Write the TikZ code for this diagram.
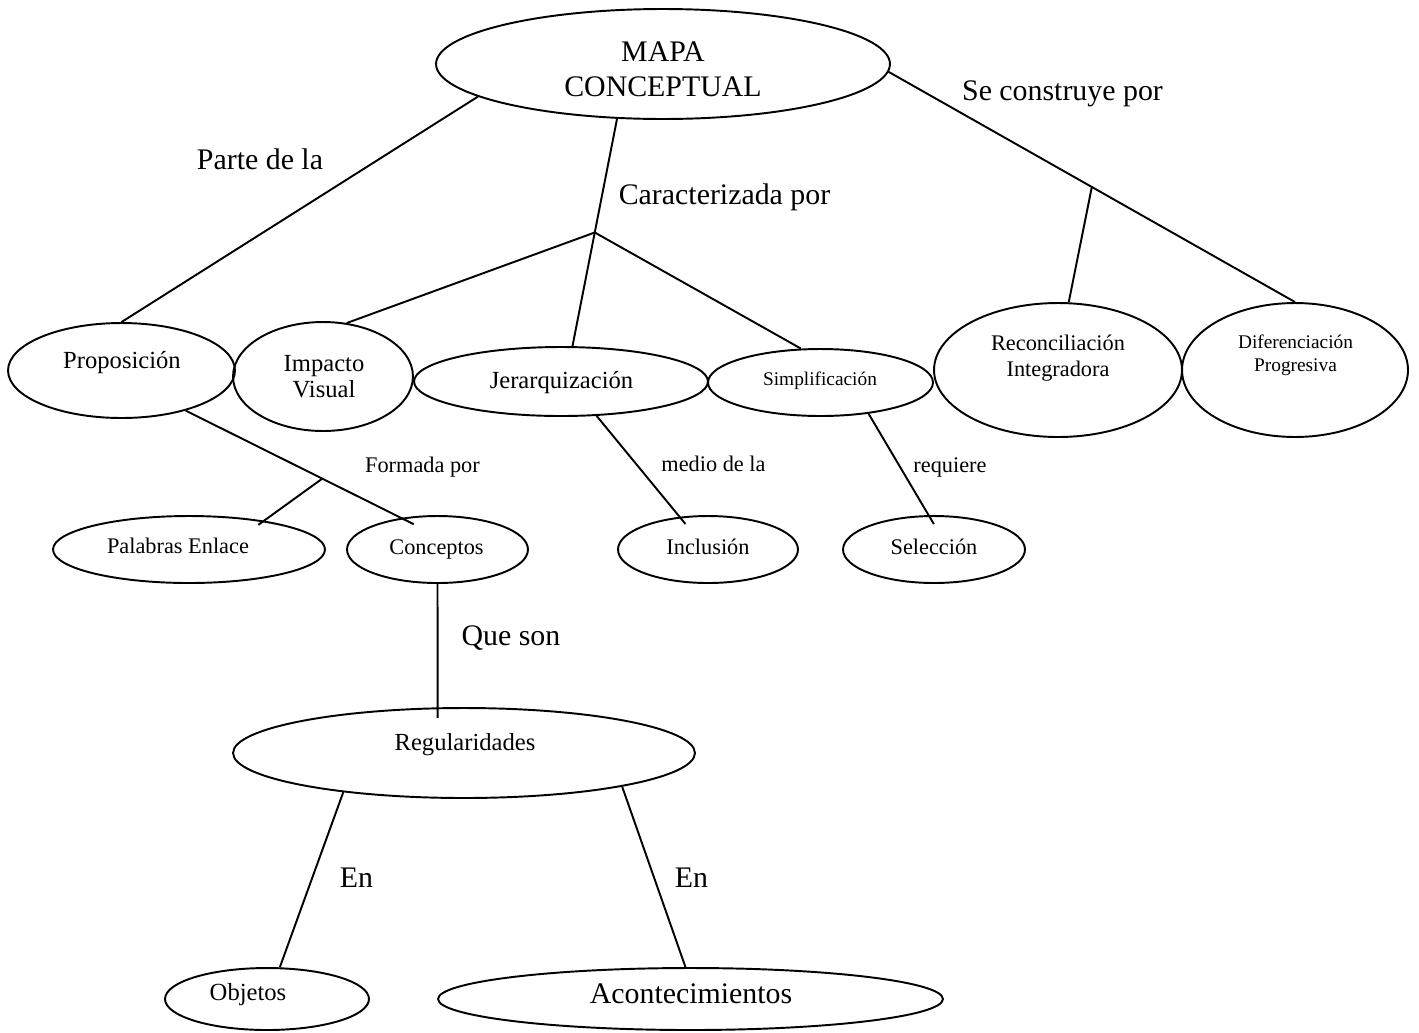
\documentclass[tikz,border=0pt]{standalone}
\usepackage{fontspec}
\setmainfont{Liberation Serif}
\usetikzlibrary{shapes.geometric,calc}

\tikzset{
  oval/.style={ellipse, draw, line width=1.1pt, inner sep=0pt},
  link/.style={line width=1.1pt},
  txt/.style={inner sep=0pt, anchor=base},
  ftitle/.style={font=\fontsize{17}{19.9}\selectfont},
  fbig/.style={font=\fontsize{17}{20}\selectfont},
  fmid/.style={font=\fontsize{14}{14.8}\selectfont},
  fsmall/.style={font=\fontsize{12.7}{15.2}\selectfont},
  ftiny/.style={font=\fontsize{11}{13.3}\selectfont},
}

\begin{document}
\begin{tikzpicture}[x=0.02cm, y=-0.02cm]
  \useasboundingbox (0,0) rectangle (1419,1032);
  \fill[white] (0,0) rectangle (1419,1032);

  % concept ovals
  \node[oval, minimum width=9.08cm, minimum height=2.2cm]  (mapa) at (663,64) {};
  \node[oval, minimum width=4.54cm, minimum height=1.9cm]  (prop) at (121.5,370.5) {};
  \node[oval, minimum width=3.6cm,  minimum height=2.18cm] (imp)  at (323,376.5) {};
  \node[oval, minimum width=5.88cm, minimum height=1.38cm] (jer)  at (561,381.5) {};
  \node[oval, minimum width=4.5cm,  minimum height=1.34cm] (simp) at (820.5,382.5) {};
  \node[oval, minimum width=4.96cm, minimum height=2.68cm] (rec)  at (1058,370) {};
  \node[oval, minimum width=4.52cm, minimum height=2.68cm] (dif)  at (1295,370) {};
  \node[oval, minimum width=5.44cm, minimum height=1.34cm] (pal)  at (189,549.5) {};
  \node[oval, minimum width=3.62cm, minimum height=1.34cm] (con)  at (437.5,549.5) {};
  \node[oval, minimum width=3.6cm,  minimum height=1.34cm] (inc)  at (708,549.5) {};
  \node[oval, minimum width=3.64cm, minimum height=1.34cm] (sel)  at (934,549.5) {};
  \node[oval, minimum width=9.24cm, minimum height=1.8cm]  (reg)  at (464,753) {};
  \node[oval, minimum width=4.08cm, minimum height=1.24cm] (obj)  at (267,999) {};
  \node[oval, minimum width=10.1cm, minimum height=1.24cm] (aco)  at (690.5,999) {};

  % texts inside the ovals
  \node[ftitle, inner sep=0pt, align=center] (mapa-t) at (663,69.7) {MAPA\\CONCEPTUAL};
  \node[txt, fmid]   (prop-t) at (122,368) {Proposición};
  \node[fmid, inner sep=0pt, align=center] (imp-t) at (324,376.8) {Impacto\\Visual};
  \node[txt, fmid]   (jer-t)  at (561.5,388.6) {Jerarquización};
  \node[txt, ftiny]  (simp-t) at (820,385) {Simplificación};
  \node[fsmall, inner sep=0pt, align=center] (rec-t) at (1058,358) {Reconciliación\\Integradora};
  \node[ftiny, inner sep=0pt, align=center]  (dif-t) at (1295.5,355.4) {Diferenciación\\Progresiva};
  \node[txt, fsmall] (pal-t)  at (178,553.3) {Palabras Enlace};
  \node[txt, fsmall] (con-t)  at (436.5,554) {Conceptos};
  \node[txt, fsmall] (inc-t)  at (708,554) {Inclusión};
  \node[txt, fsmall] (sel-t)  at (934,554) {Selección};
  \node[txt, fmid]   (reg-t)  at (465,750.7) {Regularidades};
  \node[txt, fmid]   (obj-t)  at (248,1000) {Objetos};
  \node[txt, fbig]   (aco-t)  at (691,1003) {Acontecimientos};

  % branch points
  \coordinate (car) at ($(mapa.-130)!0.5!(jer.72)$);
  \coordinate (sc)  at ($(mapa.-2)!0.5!(dif.north)$);
  \coordinate (pe)  at ($(prop.-32)!0.634!(con.139)$);

  % connectors
  \draw[link] (mapa.190) -- (prop.north);
  \draw[link] (mapa.-130) -- (jer.72);
  \draw[link] (car) -- (imp.66);
  \draw[link] (car) -- (simp.120);
  \draw[link] (mapa.-2) -- (dif.north);
  \draw[link] (sc) -- (rec.81);
  \draw[link, shorten >=-8pt] (prop.-32) -- (con.139);
  \draw[link, shorten >=-4pt] (pe) -- (pal.21);
  \draw[link, shorten >=-5.3pt] (jer.-44.7) -- (inc.131);
  \draw[link, shorten >=-5.9pt] (simp.-33.3) -- (sel.99);
  \draw[link, shorten >=-6pt] (con.south) -- (reg.120.7);
  \draw[link] (reg.198) -- (obj.68);
  \draw[link] (reg.-12.2) -- (aco.99.75);

  % linking words
  \node[txt, fbig]   (l-parte) at (260,169)    {Parte de la};
  \node[txt, fbig]   (l-carac) at (724.5,204)  {Caracterizada por};
  \node[txt, fbig]   (l-const) at (1062.5,100) {Se construye por};
  \node[txt, fsmall] (l-forma) at (422.5,472.7) {Formada por};
  \node[txt, fsmall] (l-medio) at (713.5,471.7) {medio de la};
  \node[txt, fsmall] (l-requi) at (950,472)     {requiere};
  \node[txt, fbig]   (l-queso) at (511,645)     {Que son};
  \node[txt, fbig]   (l-en1)   at (356.5,887)   {En};
  \node[txt, fbig]   (l-en2)   at (691.5,887)   {En};
\end{tikzpicture}
\end{document}
